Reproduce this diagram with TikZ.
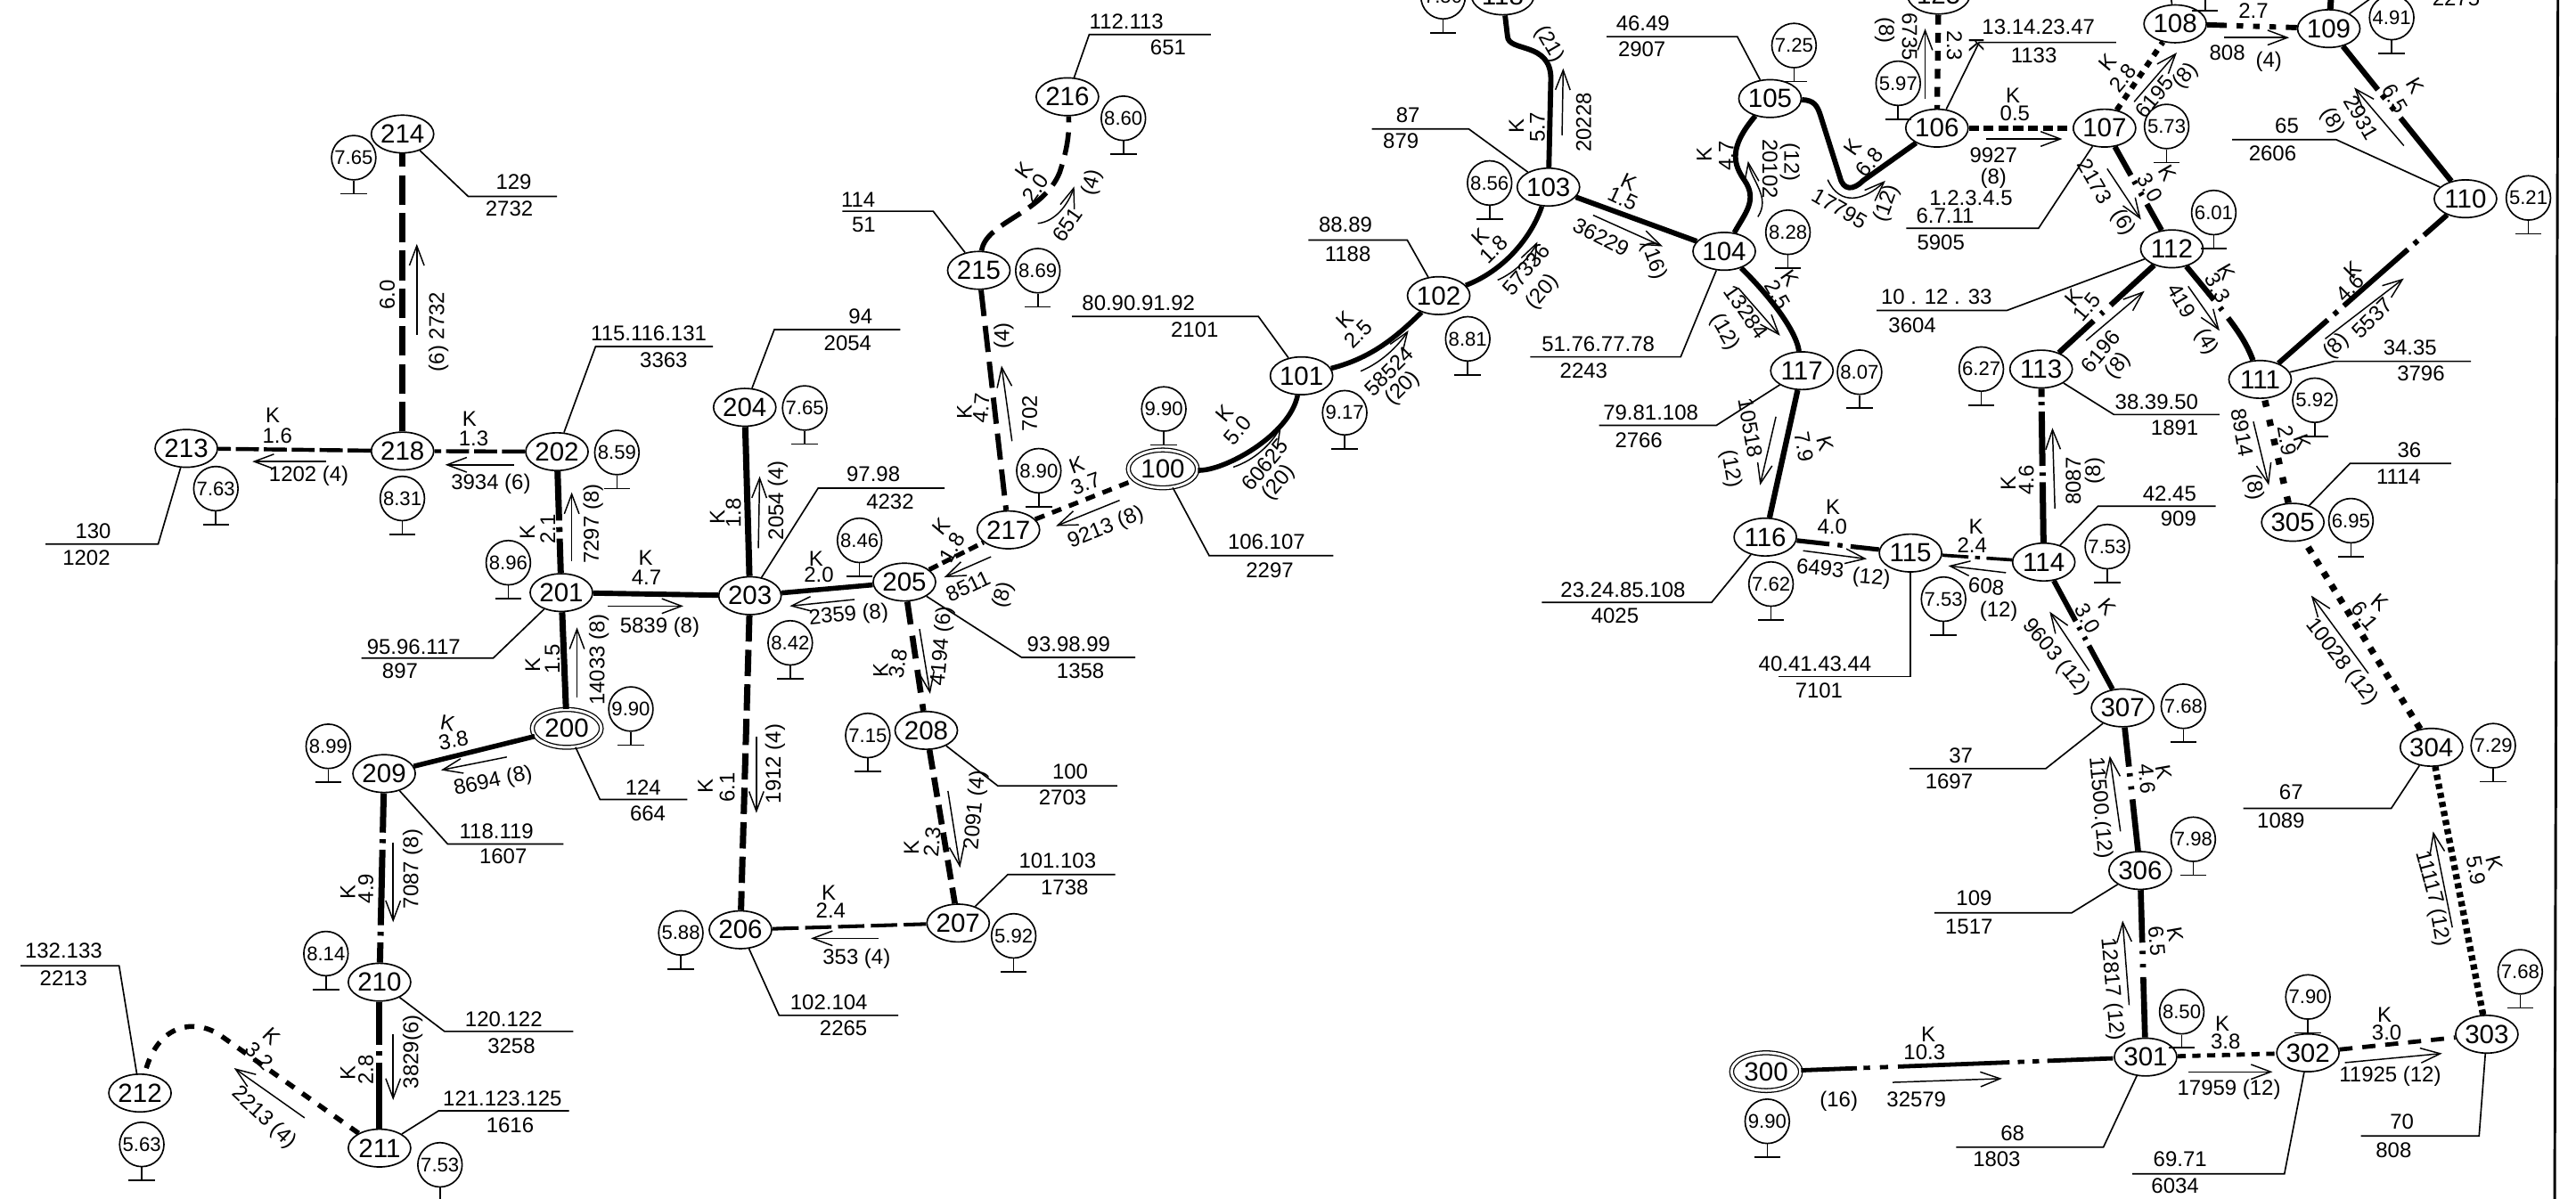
\documentclass[tikz,border=0pt]{standalone}
\usepackage{fontspec}
\setmainfont{Liberation Sans}
\usetikzlibrary{arrows.meta,shapes.geometric}
\newcount\lblc
\newcommand\lbl[4]{\global\advance\lblc by 1 \node[lbltxt,rotate=#3] (t\the\lblc) at (#1,#2) {#4};}
\newcommand\arw[4]{\draw[flow] (#1,#2) -- (#3,#4);}
\newcommand\lead[4]{\draw[leader] (#1) -- (#2,#3) -- (#4,#3);}
\newcommand\busn[3]{\node[bus] (n#3) at (#1,#2) {#3};}
\newcommand\bulb[3]{\global\advance\lblc by 1
  \node[bulbn] (b\the\lblc) at (#1,#2) {\makebox[0pt][c]{#3}};
  \draw[leader] (b\the\lblc.south) -- ++(0,8) coordinate (c\the\lblc);
  \draw[leader] ([xshift=-4pt]c\the\lblc) -- ([xshift=4pt]c\the\lblc);}
\tikzset{
  bus/.style={draw,ellipse,line width=.45pt,minimum width=19pt,minimum height=11.5pt,inner sep=0pt,font=\fontsize{8}{8}\selectfont},
  dbus/.style={bus,double,double distance=.8pt,line width=.35pt,minimum width=21pt,minimum height=11.5pt},
  bulbn/.style={draw,circle,line width=.45pt,minimum size=13.5pt,inner sep=0pt,font=\fontsize{6}{6}\selectfont},
  lbltxt/.style={inner sep=0pt,font=\fontsize{6.5}{6.5}\selectfont},
  leader/.style={line width=.45pt},
  flow/.style={line width=.4pt,-{Straight Barb[length=6pt,width=4.5pt]}},
  e/.style={line width=#1,line cap=butt},
  e/.default=1.7pt
}
\begin{document}
\begin{tikzpicture}[x=0.5pt,y=-0.5pt]
\useasboundingbox (0,0) rectangle (1568,730);
\clip (0,0) rectangle (1568,730);
\fill[white] (0,0) rectangle (1568,730);
% buses
\busn{245}{81.6}{214}\busn{245}{274.6}{218}\busn{113.4}{273}{213}\busn{339}{275}{202}\busn{341.7}{360.8}{201}
\node[dbus] (n200) at (345,443.5) {200};
\busn{233.8}{471}{209}\busn{231}{598}{210}\busn{231}{699}{211}\busn{85.2}{665.5}{212}
\busn{456.5}{362.7}{203}\busn{453.3}{248}{204}\busn{550.5}{354.4}{205}\busn{613.8}{322.6}{217}\busn{595.8}{164.6}{215}\busn{649.7}{58.9}{216}
\busn{563.8}{444.7}{208}\busn{450.7}{566.1}{206}\busn{583.2}{562}{207}
\node[dbus] (n100) at (707.8,285.5) {100};
\busn{792.2}{228.8}{101}\busn{875.7}{180}{102}\busn{942.5}{113.9}{103}\busn{1049.5}{153}{104}\busn{1077.4}{60}{105}
\busn{1179}{78}{106}\busn{1281}{78}{107}\busn{1324}{14.5}{108}\busn{1417.5}{17.4}{109}\busn{1500.7}{121}{110}
\busn{1375.7}{231}{111}\busn{1322}{151.5}{112}\busn{1242.4}{224.7}{113}\busn{1244}{342.2}{114}\busn{1162.9}{336.7}{115}
\busn{1074.5}{327}{116}\busn{1096.8}{225.7}{117}\busn{914.7}{-2.5}{118}\busn{1180}{-3}{125}
\node[dbus] (n300) at (1075,652.5) {300};
\busn{1306}{643.6}{301}\busn{1404.8}{641}{302}\busn{1513.7}{629.7}{303}\busn{1480}{455}{304}\busn{1395.6}{318}{305}\busn{1302.7}{530}{306}\busn{1292}{431}{307}
% connectors
\draw[e=1.9pt,dash pattern=on 9pt off 2.5pt] (n218) -- (n214);
\draw[e=1.2pt,dash pattern=on 7pt off 1.5pt] (n218) -- (n213);
\draw[e=1.2pt,dash pattern=on 7pt off 1.5pt] (n202) -- (n218);
\draw[e=1.9pt,dash pattern=on 15pt off 2pt on 1.5pt off 2pt on 20pt] (n202) -- (n201);
\draw[e=1.9pt] (n200) -- (n201);
\draw[e=1.6pt] (n201) -- (n203);
\draw[e=1.9pt] (n203) -- (n204);
\draw[e=1.5pt] (n203) -- (n205);
\draw[e=1.5pt] (n200) -- (n209);
\draw[e=1.9pt,dash pattern=on 12pt off 2pt on 1.2pt off 2pt on 23pt off 2pt on 1.2pt off 2pt on 30pt] (n209) -- (n210);
\draw[e=1.9pt,dash pattern=on 13pt off 2pt on 1.5pt off 2pt on 20pt] (n210) -- (n211);
\draw[e=1.5pt,dash pattern=on 3pt off 3pt] (n211) -- (135,631) .. controls (120,620) and (96,622) .. (n212);
\draw[e=1.9pt,dash pattern=on 8pt off 2.5pt] (n203) -- (n206);
\draw[e=1.1pt,dash pattern=on 8pt off 2pt] (n206) -- (n207);
\draw[e=1.8pt,dash pattern=on 7pt off 3.5pt] (n205) -- (n208);
\draw[e=1.8pt,dash pattern=on 6pt off 2.5pt] (n208) -- (n207);
\draw[e=1.4pt,dash pattern=on 3pt off 1.5pt] (n205) -- (n217);
\draw[e=1.4pt,dash pattern=on 3pt off 2.5pt] (n217) -- (n100);
\draw[e=1.6pt,dash pattern=on 8pt off 3pt] (n215) -- (n217);
\draw[e=1.5pt,dash pattern=on 7pt off 3pt] (n215) .. controls (600,135) and (635,130) .. (645,105) .. controls (650,90) and (651,80) .. (n216);
\draw[e=1.5pt] (n100) .. controls (745,287) and (785,265) .. (n101);
\draw[e=1.5pt] (n101) .. controls (835,218) and (850,205) .. (n102);
\draw[e=1.5pt] (n102) .. controls (915,165) and (932,145) .. (n103);
\draw[e=1.6pt] (n103) -- (n104);
\draw[e=1.6pt] (n118) -- (917.6,22) .. controls (918,32) and (944,25) .. (944,48) -- (n103);
\draw[e=1.6pt] (n104) .. controls (1062,130) and (1070,122) .. (1062,110) .. controls (1055,100) and (1052,90) .. (n105);
\draw[e=1.6pt] (n105) .. controls (1104,61) and (1106,64) .. (1108,70) -- (1120,108) .. controls (1122,116) and (1128,116) .. (1134,110) -- (n106);
\draw[e=1.6pt] (n104) .. controls (1075,178) and (1093,200) .. (n117);
\draw[e=1.7pt] (n117) -- (n116);
\draw[e=1.4pt,dash pattern=on 10pt off 2.5pt on 1.5pt off 2.5pt on 20pt] (n116) -- (n115);
\draw[e=1pt,dash pattern=on 8pt off 2pt on 1.5pt off 2pt on 20pt] (n115) -- (n114);
\draw[e=1.9pt,dash pattern=on 2.5pt off 1.5pt on 1pt off 2pt on 16.5pt off 2pt on 1pt off 2pt on 20pt] (n113) -- (n114);
\draw[e=1.6pt,dash pattern=on 14pt off 2pt on 1pt off 2.5pt on 1pt off 2pt on 20pt] (n114) -- (n307);
\draw[e=1.8pt,dash pattern=on 12pt off 2pt on 1pt off 3pt on 1pt off 3pt on 20pt] (n307) -- (n306);
\draw[e=1.8pt,dash pattern=on 16pt off 2.5pt on 1pt off 3pt on 1pt off 3pt on 20pt] (n306) -- (n301);
\draw[e=1.3pt,dash pattern=on 17pt off 2pt on 2pt off 3pt on 2.5pt off 3pt on 34pt off 2.5pt on 2pt off 2.5pt on 2pt off 2.5pt on 20pt] (n300) -- (n301);
\draw[e=1.3pt,dash pattern=on 2.5pt off 2pt] (n301) -- (n302);
\draw[e=1.3pt,dash pattern=on 4pt off 3pt] (n302) -- (n303);
\draw[e=2pt,dash pattern=on 1.6pt off 1.2pt] (n303) -- (n304);
\draw[e=2pt,dash pattern=on 2pt off 2.5pt] (n304) -- (n305);
\draw[e=2pt,dash pattern=on 2pt off 4pt] (n305) -- (n111);
\draw[e=1.7pt,dash pattern=on 15pt off 3pt on 1pt off 3pt on 20pt] (n111) .. controls (1366,205) and (1358,195) .. (n112);
\draw[e=1.6pt,dash pattern=on 20pt off 2.5pt on 1.5pt off 2.5pt on 26pt off 2.5pt on 1.5pt off 2.5pt on 20pt] (n111) -- (n110);
\draw[e=1.7pt,dash pattern=on 17pt off 2pt on 1.5pt off 3pt on 1.5pt off 3pt on 30pt] (n109) -- (n110);
\draw[e=1.6pt,dash pattern=on 6pt off 3pt on 2pt off 3pt on 2pt off 3pt on 2pt off 3pt on 20pt] (n108) -- (n109);
\coordinate (top109) at (1419.4,-8);
\draw[e=1.9pt] (n109) -- (top109);
\draw[e=1.7pt,dash pattern=on 2pt off 2pt] (n107) -- (n108);
\draw[e=1.7pt,dash pattern=on 3pt off 1.5pt] (n106) -- (n107);
\draw[e=1.7pt,dash pattern=on 3pt off 2.5pt] (n125) -- (n106);
\draw[e=1.7pt,dash pattern=on 10pt off 2pt on 1pt off 3pt on 1pt off 3pt on 20pt] (n107) -- (n112);
\draw[e=1.7pt,dash pattern=on 18pt off 3pt on 1pt off 3pt on 20pt] (n112) -- (n113);
% leaders
\lead{n214}{285}{119.6}{339}\lbl{312.7}{111}{0}{129}\lbl{310}{127}{0}{2732}
\lead{n202}{362.5}{211}{434}\lbl{394.9}{203.2}{0}{115.116.131}\lbl{404}{219.3}{0}{3363}
\lead{n213}{96.3}{331.2}{27.7}\lbl{56.7}{323.3}{0}{130}\lbl{52.6}{339.4}{0}{1202}
\lead{n201}{300.2}{400.7}{220}\lbl{251.8}{393.8}{0}{95.96.117}\lbl{243.5}{408.3}{0}{897}
\lead{n200}{365.2}{486.8}{418.4}\lbl{391.5}{479.3}{0}{124}\lbl{394.3}{495.5}{0}{664}
\lead{n209}{272.5}{513.9}{343}\lbl{302.2}{505.9}{0}{118.119}\lbl{306.3}{521.5}{0}{1607}
\lead{n210}{270.6}{628}{349}\lbl{306.6}{620.6}{0}{120.122}\lbl{311.3}{636.7}{0}{3258}
\lead{n211}{267}{676.3}{346.4}\lbl{305.8}{668.7}{0}{121.123.125}\lbl{310.5}{685}{0}{1616}
\lead{n212}{72.5}{588}{12.5}\lbl{38.7}{578.9}{0}{132.133}\lbl{38.7}{595.5}{0}{2213}
\lead{n216}{663}{21}{737}\lbl{685.7}{13}{0}{112.113}\lbl{711}{29}{0}{651}
\lead{n215}{568}{128.6}{512.8}\lbl{522.4}{121.4}{0}{114}\lbl{525.8}{136.7}{0}{51}
\lead{n204}{471.3}{200.7}{548}\lbl{523.8}{192.7}{0}{94}\lbl{516}{209}{0}{2054}
\lead{n203}{498}{297.2}{575}\lbl{531.6}{288.9}{0}{97.98}\lbl{541.8}{305.7}{0}{4232}
\lead{n101}{766}{192.7}{652.5}\lbl{693}{184.3}{0}{80.90.91.92}\lbl{727.2}{200.7}{0}{2101}
\lead{n100}{736}{338.3}{811.6}\lbl{770.9}{330}{0}{106.107}\lbl{772.9}{347.3}{0}{2297}
\lead{n205}{621.9}{400.3}{691}\lbl{650.5}{392}{0}{93.98.99}\lbl{657.7}{408.6}{0}{1358}
\lead{n208}{607.4}{478.5}{680}\lbl{651.4}{469.8}{0}{100}\lbl{646.8}{485.8}{0}{2703}
\lead{n207}{613.4}{532.5}{678.8}\lbl{643.7}{524.2}{0}{101.103}\lbl{648}{540.4}{0}{1738}
\lead{n206}{474.2}{618.2}{546.8}\lbl{504.5}{610.3}{0}{102.104}\lbl{513.4}{625.9}{0}{2265}
\lead{n103}{894}{78.5}{835}\lbl{857}{70}{0}{87}\lbl{852.7}{86}{0}{879}
\lead{n102}{856.6}{146.2}{796.4}\lbl{819}{137}{0}{88.89}\lbl{820.4}{154.7}{0}{1188}
\lead{n105}{1057.5}{22.3}{978}\lbl{1000}{14.5}{0}{46.49}\lbl{999.4}{30}{0}{2907}
\lead{n104}{1023}{217.3}{931.4}\lbl{972.8}{209.6}{0}{51.76.77.78}\lbl{964}{226}{0}{2243}
\lead{n117}{1044.7}{259}{973.3}\lbl{1004.8}{251.4}{0}{79.81.108}\lbl{997.5}{267.9}{0}{2766}
\lead{n106}{1204.7}{25.8}{1288}\lbl{1240.8}{16.5}{0}{13.14.23.47}\lbl{1238}{34}{0}{1133}
\lead{n107}{1240.8}{139}{1160.3}\lbl{1199.7}{120.5}{0}{1.2.3.4.5}\lbl{1184}{131.5}{0}{6.7.11}\lbl{1181.4}{147.6}{0}{5905}
\lead{n110}{1422}{85}{1358.7}\lbl{1392}{76.5}{0}{65}\lbl{1383.3}{93.6}{0}{2606}
\lead{n111}{1420.8}{220}{1504}\lbl{1467}{211.5}{0}{34.35}\lbl{1473.6}{227.6}{0}{3796}
\lead{n112}{1221.6}{189}{1142.3}\lbl{1178.7}{181}{0}{10 . 12 . 33}\lbl{1164}{198}{0}{3604}
\lead{n113}{1286.7}{252.4}{1351}\lbl{1312.7}{244.5}{0}{38.39.50}\lbl{1323.7}{260.5}{0}{1891}
\lead{n305}{1430.4}{282.2}{1492}\lbl{1466.5}{274}{0}{36}\lbl{1460}{290.5}{0}{1114}
\lead{n116}{1041.8}{366.8}{938.5}\lbl{987.9}{359}{0}{23.24.85.108}\lbl{983}{375}{0}{4025}
\lead{n115}{1162.9}{412}{1082.3}\lbl{1104.8}{404.4}{0}{40.41.43.44}\lbl{1107.2}{420.3}{0}{7101}
\lead{n114}{1277}{308.2}{1348.6}\lbl{1320.6}{300.4}{0}{42.45}\lbl{1326}{316}{0}{909}
\lead{n307}{1245.2}{468}{1162.4}\lbl{1193.6}{460}{0}{37}\lbl{1186.4}{476}{0}{1697}
\lead{n306}{1261}{555.8}{1177.4}\lbl{1201.6}{547}{0}{109}\lbl{1198.5}{564}{0}{1517}
\lead{n301}{1280.3}{698.5}{1190.7}\lbl{1225}{690}{0}{68}\lbl{1215.4}{705.5}{0}{1803}
\lead{n304}{1455.5}{492.2}{1365.5}\lbl{1394.6}{482.5}{0}{67}\lbl{1388.4}{499.8}{0}{1089}
\lead{n302}{1390.5}{714.7}{1298}\lbl{1327}{705.5}{0}{69.71}\lbl{1324}{722}{0}{6034}
\lead{n303}{1509}{691.6}{1437}\lbl{1462}{683}{0}{70}\lbl{1457}{700.5}{0}{808}
\lead{n109}{1450}{-6}{1520}\lbl{1495}{-1}{0}{2275}
\coordinate (top108) at (1320,-10);
\draw[leader] (n108) -- (top108);
\draw[leader] (1342.4,-5) -- (1342.4,6.4);
\draw[leader] (1334,6.4) -- (1350,6.4);
% bulbs
\bulb{215.3}{96}{7.65}\bulb{131.4}{297.5}{7.63}\bulb{244.9}{303.5}{8.31}\bulb{375.5}{275.5}{8.59}\bulb{309.4}{342.6}{8.96}
\bulb{384}{431.7}{9.90}\bulb{199.8}{454.4}{8.99}\bulb{198.4}{580.6}{8.14}\bulb{267.8}{709.2}{7.53}\bulb{86.3}{696.8}{5.63}
\bulb{414.4}{568}{5.88}\bulb{523.2}{329}{8.46}\bulb{481}{391.4}{8.42}\bulb{528.2}{447.8}{7.15}\bulb{617}{569.8}{5.92}
\bulb{683.8}{72}{8.60}\bulb{631.7}{164.8}{8.69}\bulb{489.8}{248.4}{7.65}\bulb{632.3}{286.6}{8.90}\bulb{708.4}{249}{9.90}\bulb{818.5}{251.3}{9.17}
\bulb{906.7}{111.4}{8.56}\bulb{893.4}{206.3}{8.81}\bulb{1092}{27.7}{7.25}\bulb{1088.3}{141.4}{8.28}\bulb{1131.9}{226.6}{8.07}\bulb{878.4}{-2}{7.50}
\bulb{1155.4}{50.7}{5.97}\bulb{1318.8}{77}{5.73}\bulb{1347.5}{129.4}{6.01}\bulb{1455.8}{10.7}{4.91}\bulb{1539}{120.5}{5.21}\bulb{1206}{224.7}{6.27}\bulb{1409}{243.7}{5.92}
\bulb{1078}{355.6}{7.62}\bulb{1183}{364.8}{7.53}\bulb{1282.7}{332.8}{7.53}\bulb{1075.7}{682.7}{9.90}
\bulb{1431}{317}{6.95}\bulb{1517.6}{454}{7.29}\bulb{1534}{591.7}{7.68}\bulb{1404.8}{607}{7.90}\bulb{1328}{616}{8.50}\bulb{1335}{511}{7.98}\bulb{1329}{430}{7.68}
% edge labels and flow arrows
\lbl{235.7}{179.6}{90}{6.0}\arw{253.7}{204}{253.7}{148.5}\lbl{267}{202}{90}{(6) 2732}
\lbl{166}{253}{0}{K}\lbl{168.8}{265.4}{0}{1.6}\arw{198.7}{281}{153.6}{281}\lbl{188}{290}{0}{1202 (4)}
\lbl{285.8}{255}{0}{K}\lbl{288.3}{267}{0}{1.3}\arw{312.7}{283}{271}{283}\lbl{298.8}{294.8}{0}{3934 (6)}
\lbl{321}{324.3}{90}{K}\lbl{333.4}{322.2}{90}{2.1}\arw{348}{341.5}{348}{299.7}\lbl{361}{319}{90}{7297 (8)}
\lbl{393}{339.8}{0}{K}\lbl{393.5}{351.8}{0}{4.7}\arw{370}{369}{416}{369}\lbl{401.6}{382}{0}{5839 (8)}
\arw{351.2}{424.6}{351.2}{382}\lbl{364.5}{401.7}{90}{14033 (8)}\lbl{324.3}{405}{90}{K}\lbl{336.2}{401.3}{90}{1.5}
\lbl{272.5}{440}{-10}{K}\lbl{276}{450.7}{10}{3.8}\arw{308.5}{460.9}{268.4}{468.9}\lbl{300.2}{476}{12}{8694 (8)}
\lbl{211.7}{543}{90}{K}\lbl{222.7}{541}{90}{4.9}\arw{239.3}{512.8}{239.3}{561.5}\lbl{251.2}{529}{90}{7087 (8)}
\lbl{211.7}{653.5}{90}{K}\lbl{222.7}{651.4}{90}{2.8}\arw{239.3}{629.7}{239.3}{669.8}\lbl{251.2}{640.5}{90}{3829(6)}
\lbl{165.5}{631.2}{-45}{K}\lbl{157.7}{642.7}{-45}{3.2}\arw{185.4}{680.6}{142.5}{650.3}\lbl{160.5}{680.6}{-43}{2213 (4)}
\lbl{623.4}{103.9}{55}{K}\lbl{630.4}{114.6}{55}{2.0}\draw[flow] (631.7,136) .. controls (642,135) and (650,125) .. (653.9,113.5);\lbl{649.7}{137}{55}{651}\lbl{665}{111.3}{75}{(4)}
\lbl{587}{250.6}{90}{K}\lbl{597.2}{248.4}{85}{4.7}\arw{616}{268.6}{609.6}{222.6}\lbl{626.8}{251.8}{90}{702}\lbl{611}{204.6}{90}{(4)}
\lbl{655.3}{283}{20}{K}\lbl{660.8}{294.5}{20}{3.7}\arw{681.5}{304.6}{642.8}{320.3}\lbl{673.2}{321.5}{22}{9213 (8)}
\lbl{745.2}{251.8}{50}{K}\lbl{753.5}{262}{50}{5.0}\draw[flow] (750.7,284.4) .. controls (764,280) and (774,270) .. (779.8,259.6);\lbl{770}{283}{50}{60625}\lbl{778.5}{294}{50}{(20)}
\lbl{818.5}{194.5}{45}{K}\lbl{826.8}{203.4}{45}{2.5}\draw[flow] (828.2,226) .. controls (840,221) and (850,212) .. (857.3,201.2);\lbl{845.5}{226}{45}{58524}\lbl{854}{236.5}{45}{(20)}
\lbl{901.1}{144.3}{45}{K}\lbl{909.1}{152}{45}{1.8}\draw[flow] (911.6,170.5) .. controls (922,166) and (931,157) .. (935.8,147.2);\lbl{929}{164}{50}{57336}\lbl{939}{178}{50}{(20)}
\lbl{923}{76.5}{90}{K}\lbl{935.8}{77.5}{90}{5.7}\arw{950.8}{82.3}{951.5}{41.6}\lbl{964}{74.6}{90}{20228}\lbl{943}{27}{-60}{(21)}
\lbl{991.4}{110.8}{-25}{K}\lbl{987.8}{121}{-25}{1.5}\arw{969.7}{131}{1012}{150}\lbl{974.5}{144.3}{-27}{36229}\lbl{1006.5}{158.8}{-70}{(16)}
\lbl{1037.4}{94}{90}{K}\lbl{1050.8}{95}{90}{4.7}\draw[flow] (1070,132) .. controls (1078,120) and (1066,110) .. (1064,98);\lbl{1077.4}{102.7}{-90}{20102}\lbl{1089.5}{98.8}{-90}{(12)}
\lbl{1128}{89.5}{55}{K}\lbl{1138}{98.8}{50}{6.8}\draw[flow] (1112.5,109.4) .. controls (1120,126) and (1135,122) .. (1147.6,110);\lbl{1119.7}{127}{-30}{17795}\lbl{1148.8}{124}{70}{(12)}
\lbl{1089.5}{169.5}{-55}{K}\lbl{1082.2}{179.2}{-60}{2.5}\arw{1058}{175.3}{1083.5}{204.4}\lbl{1062.9}{189.8}{-55}{13284}\lbl{1049.5}{202.4}{-60}{(12)}
\lbl{1110.8}{270}{-75}{K}\lbl{1098}{272}{-80}{7.9}\arw{1081}{253.7}{1071.3}{295.4}\lbl{1065.3}{260.5}{-80}{10518}\lbl{1053.2}{285.7}{-80}{(12)}
\lbl{1189.6}{28}{-90}{2.3}\lbl{1203}{27.5}{-90}{K}\arw{1171.8}{60}{1171.8}{17.4}\lbl{1162.3}{22.3}{-90}{6735}\lbl{1147.2}{18.4}{-90}{(8)}
\lbl{1225.2}{58}{0}{K}\lbl{1226.5}{69}{0}{0.5}\arw{1208.8}{84.6}{1255.3}{84.6}\lbl{1213.4}{94.5}{0}{9927}\lbl{1213.4}{108.5}{0}{(8)}
\lbl{1282.6}{37.8}{50}{K}\lbl{1292.2}{47.5}{50}{2.8}\arw{1299}{62}{1325}{32}\lbl{1311.4}{59}{50}{6195}\lbl{1330.5}{46.5}{50}{(8)}
\lbl{1371.6}{6.8}{0}{2.7}\arw{1353.8}{22.9}{1393.4}{22.9}\lbl{1355.7}{32}{0}{808}\lbl{1381}{37.8}{0}{(4)}
\lbl{1470}{52}{-60}{K}\lbl{1457.7}{60}{-60}{6.5}\arw{1463.2}{88.7}{1433}{53.3}\lbl{1437.2}{71.7}{-60}{2931}\lbl{1419.4}{73.6}{-60}{(8)}
\lbl{1319.6}{105.6}{-60}{K}\lbl{1308.6}{114.3}{-60}{3.0}\arw{1282.6}{102.7}{1303.2}{133.7}\lbl{1275}{110.4}{-60}{2173}\lbl{1292.2}{135.6}{-60}{(6)}
\lbl{1355}{165.6}{-60}{K}\lbl{1349.7}{175.3}{-60}{3.3}\arw{1331.9}{174.3}{1351}{201.4}\lbl{1327.8}{183}{-60}{419}\lbl{1342.8}{208.2}{-60}{(4)}
\lbl{1262}{181}{50}{K}\lbl{1270.3}{187}{50}{1.5}\arw{1269.8}{207.3}{1305.3}{177.2}\lbl{1278.5}{214}{50}{6196}\lbl{1289.5}{222.8}{50}{(8)}
\lbl{1431.8}{164.6}{45}{K}\lbl{1430.4}{175.3}{45}{4.6}\arw{1415.3}{206.3}{1463.2}{169.5}\lbl{1444}{193.7}{45}{5537}\lbl{1422.2}{211}{45}{(8)}
\lbl{1222.4}{294.4}{90}{K}\lbl{1233.4}{292.5}{90}{4.6}\arw{1250.8}{309.6}{1249.3}{260.5}\lbl{1262}{293}{90}{8087}\lbl{1275}{286.7}{90}{(8)}
\lbl{1115.7}{309}{0}{K}\lbl{1115.2}{320.8}{0}{4.0}\arw{1097.5}{335.3}{1136.3}{340.3}\lbl{1108}{345.9}{-5}{6493}\lbl{1139}{352}{-5}{(12)}
\lbl{1202.8}{320.8}{0}{K}\lbl{1200.4}{332}{0}{2.4}\arw{1221}{348.7}{1185.9}{344.5}\lbl{1209}{357}{-5}{608}\lbl{1216.6}{372.4}{0}{(12)}
\lbl{1282.7}{369.6}{-50}{K}\lbl{1270.6}{376.5}{-60}{3.0}\arw{1271.8}{408.6}{1247.6}{372.4}\lbl{1251.3}{400.2}{-50}{9603 (12)}
\lbl{1316.9}{470}{-80}{K}\lbl{1306.7}{474}{-85}{4.6}\arw{1290.7}{506.2}{1284.2}{460.2}\lbl{1278}{492}{-85}{11500.(12)}
\lbl{1324}{568.9}{-80}{K}\lbl{1312.8}{573}{-85}{6.5}\arw{1296}{612}{1292}{560.5}\lbl{1285.2}{602.4}{-85}{12817 (12)}
\lbl{1352.7}{623.3}{0}{K}\lbl{1354.7}{634.4}{0}{3.8}\arw{1332.2}{652.6}{1383.3}{652.6}\lbl{1356.8}{663.2}{0}{17959 (12)}
\lbl{1451.4}{617.7}{0}{K}\lbl{1452.8}{628.9}{0}{3.0}\arw{1427.3}{647}{1486.5}{641.4}\lbl{1454.9}{655.3}{0}{11925 (12)}
\lbl{1518.2}{525.7}{-75}{K}\lbl{1507}{529.9}{-80}{5.9}\arw{1492.7}{564.7}{1481}{506.2}\lbl{1479.4}{534}{-75}{11117}\lbl{1484.5}{564.7}{-80}{(12)}
\lbl{1448.7}{366.8}{-40}{K}\lbl{1439.5}{375}{-50}{6.1}\arw{1441.6}{410}{1406.8}{362.6}\lbl{1425.2}{403}{-52}{10028 (12)}
\lbl{1401.7}{269.2}{-70}{K}\lbl{1392}{268.3}{-80}{2.9}\arw{1371.6}{256.7}{1381}{295.4}\lbl{1364.7}{263.4}{-80}{8914}\lbl{1371.6}{296.4}{-80}{(8)}
\lbl{572.7}{320.8}{50}{K}\lbl{579.5}{333.3}{60}{1.8}\arw{603.2}{339}{574.7}{351.5}\lbl{589.2}{357}{25}{8511}\lbl{611}{362.3}{75}{(8)}
\lbl{496.7}{340}{0}{K}\lbl{498.4}{350}{0}{2.0}\arw{520.2}{365}{480.7}{369}\lbl{516.6}{374.8}{5}{2359 (8)}
\lbl{536}{408}{90}{K}\lbl{546.8}{404}{80}{3.8}\arw{559.7}{383}{566.2}{422.5}\lbl{573.5}{393.5}{85}{4194 (6)}
\lbl{554.8}{516}{90}{K}\lbl{567.4}{512.8}{85}{2.3}\arw{577}{481.6}{584.4}{528.3}\lbl{594}{493}{85}{2091 (4)}
\lbl{429.4}{478.5}{90}{K}\lbl{442.7}{479.6}{90}{6.1}\arw{460.4}{448.4}{460.4}{495}\lbl{471.8}{465}{90}{1912 (4)}
\lbl{504.5}{543.5}{0}{K}\lbl{505.7}{554.3}{0}{2.4}\arw{534.7}{571.3}{493.6}{571.3}\lbl{521.4}{584}{0}{353 (4)}
\lbl{436.7}{314.7}{90}{K}\lbl{446.4}{312.5}{90}{1.8}\arw{461.6}{333.8}{462.4}{290}\lbl{473.5}{304.6}{90}{2054 (4)}
\lbl{1119.3}{670.7}{0}{(16)}\lbl{1173.8}{629.7}{0}{K}\lbl{1171.4}{640.9}{0}{10.3}\arw{1152}{659}{1218.6}{656.7}\lbl{1166.5}{669.3}{0}{32579}
% frame line at the right edge
\coordinate (ftop) at (1557,0);\coordinate (fbot) at (1555,730);
\draw[line width=.8pt] (ftop) -- (fbot);
\end{tikzpicture}
\end{document}
